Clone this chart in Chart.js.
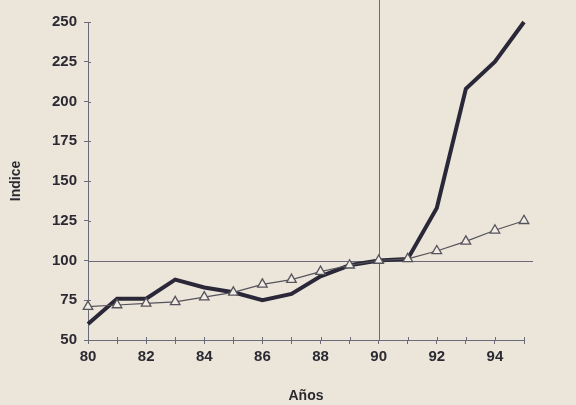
<!DOCTYPE html>
<html><head><meta charset="utf-8">
<script src="https://cdn.jsdelivr.net/npm/chart.js@4/dist/chart.umd.min.js"></script>
<style>html,body{margin:0;padding:0;background:#ece5d9;}#wrap{width:576px;height:405px;}</style>
</head><body><div id="wrap"><canvas id="c" width="576" height="405"></canvas></div>
<script>
const years = [80,81,82,83,84,85,86,87,88,89,90,91,92,93,94,95];
const gasto = [60,76,76,88,83,80,75,79,90,97,100,101,133,208,225,250];
const referencia = [71,72,73,74,77,80,85,88,93,97,100,101,106,112,119,125];
const yTicks = [50,75,100,125,150,175,200,225,250];
const xLabelYears = [80,82,84,86,88,90,92,94];
const xTitle = 'Años';
const yTitle = 'Indice';

const bgPlugin = {
  id:'bg',
  beforeDraw(chart){
    const ctx = chart.ctx;
    ctx.save(); ctx.fillStyle='#ece5d9'; ctx.fillRect(0,0,chart.width,chart.height); ctx.restore();
  },
  beforeDatasetsDraw(chart){
    const ctx = chart.ctx, x = chart.scales.x, y = chart.scales.y;
    ctx.save();
    ctx.strokeStyle='#6a6a78'; ctx.lineWidth=1;
    const px = Math.round(x.getPixelForValue(90))+0.5;
    ctx.beginPath(); ctx.moveTo(px,0); ctx.lineTo(px,y.bottom); ctx.stroke();
    const py = Math.round(y.getPixelForValue(100))+0.5;
    ctx.beginPath(); ctx.moveTo(x.left,py); ctx.lineTo(x.right+9,py); ctx.stroke();
    years.forEach(v=>{ const tx=Math.round(x.getPixelForValue(v))+0.5; ctx.beginPath(); ctx.moveTo(tx,y.bottom-3); ctx.lineTo(tx,y.bottom); ctx.stroke(); });
    yTicks.forEach(v=>{ const ty=Math.round(y.getPixelForValue(v))+0.5; ctx.beginPath(); ctx.moveTo(x.left,ty); ctx.lineTo(x.left+3,ty); ctx.stroke(); });
    ctx.restore();
  }
};

new Chart(document.getElementById('c'), {
  type:'line',
  data:{
    datasets:[
      {data: years.map((v,i)=>({x:v,y:referencia[i]})), borderColor:'#55535c', borderWidth:1.2, clip:false,
       pointStyle:'triangle', pointRadius:5.5, pointBackgroundColor:'#f2ede4', pointBorderColor:'#55535c', pointBorderWidth:1.3, tension:0, order:1},
      {data: years.map((v,i)=>({x:v,y:gasto[i]})), borderColor:'#2a2838', borderWidth:4, clip:false,
       pointRadius:0, tension:0, borderJoinStyle:'miter', order:2}
    ]
  },
  options:{
    responsive:false, animation:false, devicePixelRatio:1,
    layout:{padding:{left:4,right:52,top:22,bottom:0}},
    plugins:{legend:{display:false}, tooltip:{enabled:false}},
    scales:{
      x:{type:'linear', min:80, max:95,
        afterFit(s){ s.height = 65; },
        afterBuildTicks(s){ s.ticks = years.map(v=>({value:v})); },
        grid:{drawOnChartArea:false, drawTicks:true, tickLength:4, color:'#6a6a78'},
        border:{color:'#6a6a78', width:1},
        ticks:{autoSkip:false, maxRotation:0, padding:4, color:'#2b2a33', font:{family:'Liberation Sans', size:15, weight:'bold'},
          callback:(v)=> xLabelYears.includes(v) ? String(v) : ''},
        title:{display:true, text:xTitle, color:'#2b2a33', font:{family:'Liberation Sans', size:14, weight:'bold'}, padding:{top:0,bottom:0}}
      },
      y:{min:50, max:250,
        afterFit(s){ s.width = 84; },
        afterBuildTicks(s){ s.ticks = yTicks.map(v=>({value:v})); },
        grid:{drawOnChartArea:false, drawTicks:true, tickLength:4, color:'#6a6a78'},
        border:{color:'#6a6a78', width:1},
        ticks:{padding:7, color:'#2b2a33', font:{family:'Liberation Sans', size:15, weight:'bold'}},
        title:{display:true, text:yTitle, color:'#2b2a33', font:{family:'Liberation Sans', size:14, weight:'bold'}, padding:{bottom:4}}
      }
    }
  },
  plugins:[bgPlugin]
});
</script></body></html>
